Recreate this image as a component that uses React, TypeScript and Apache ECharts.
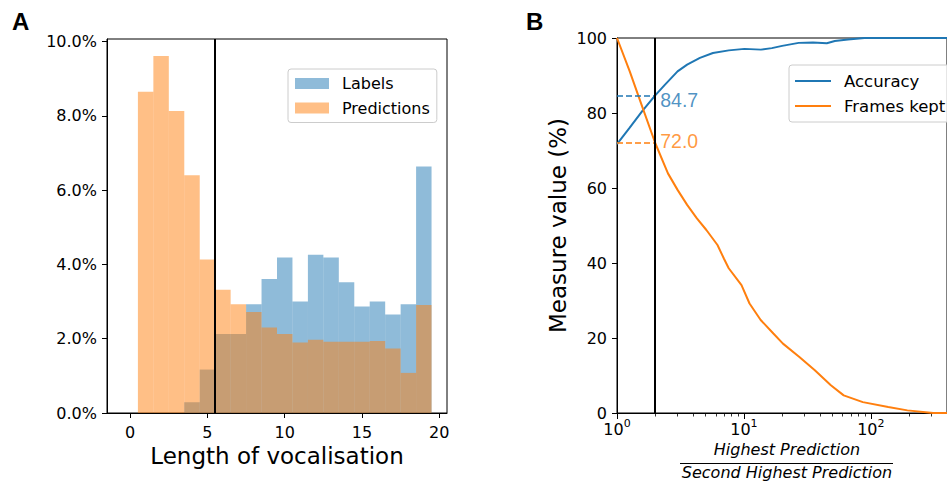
import React, { useEffect, useRef } from "react";
import * as echarts from "echarts";

// ---------- Panel A data ----------
const binCenters = [1, 2, 3, 4, 5, 6, 7, 8, 9, 10, 11, 12, 13, 14, 15, 16, 17, 18, 19];
const labelsPct = [0, 0, 0, 0.29, 1.17, 2.13, 2.13, 2.93, 3.61, 4.19, 3.0, 4.26, 4.19, 3.52, 2.87, 3.0, 2.65, 2.93, 6.64];
const predictionsPct = [8.65, 9.61, 8.13, 6.4, 4.13, 3.32, 2.93, 2.72, 2.3, 2.13, 1.9, 1.97, 1.92, 1.92, 1.92, 1.94, 1.74, 1.08, 2.91];
const cutoffLength = 5.5;
const xTicksA = [0, 5, 10, 15, 20];
const yTicksA = [0, 2, 4, 6, 8, 10];

// ---------- Panel B data ----------
const accRatio = [1, 1.26, 1.58, 2, 2.38, 3.0, 3.57, 4.5, 5.7, 7.6, 10.1, 13.6, 16.6, 20, 27, 35, 45, 52, 66, 89, 398];
const accuracy = [71.7, 76.1, 80.5, 84.7, 87.5, 91.1, 92.9, 94.7, 96.0, 96.7, 97.1, 96.9, 97.3, 97.9, 98.7, 98.8, 98.6, 99.2, 99.6, 100, 100];
const keptRatio = [1, 1.26, 1.58, 2, 2.52, 3.0, 3.57, 4.26, 5.06, 6.19, 6.95, 7.59, 9.57, 11.07, 13.55, 17.06, 20.3, 27.2, 36.2, 48.4, 61.1, 86.5, 137, 194, 310, 398];
const framesKept = [100, 91.1, 81.7, 72.0, 63.9, 59.5, 55.5, 51.9, 48.8, 44.8, 41.2, 38.6, 34.1, 29.2, 24.8, 21.2, 18.5, 15.0, 11.4, 7.4, 4.7, 2.9, 1.6, 0.7, 0, 0];
const cutoffRatio = 2;
const accAtCutoff = 84.7;
const keptAtCutoff = 72.0;
const decadeTicks = [1, 10, 100];
const minorRatios = [2, 3, 4, 5, 6, 7, 8, 9, 20, 30, 40, 50, 60, 70, 80, 90, 200, 300];
const yTicksB = [0, 20, 40, 60, 80, 100];

const FONT = "DejaVu Sans";
const BLUE = "#1f77b4";
const ORANGE = "#ff7f0e";
const BLUE_A = "rgba(31,119,180,0.5)";
const ORANGE_A = "rgba(255,127,14,0.5)";

function histItem(fill: string) {
  return (params: any, api: any) => {
    const c = api.value(0);
    const v = api.value(1);
    const p0 = api.coord([c - 0.5, v]);
    const p1 = api.coord([c + 0.5, 0]);
    return {
      type: "rect",
      shape: { x: p0[0], y: p0[1], width: p1[0] - p0[0], height: p1[1] - p0[1] },
      style: { fill },
    };
  };
}

export default function App() {
  const ref = useRef<HTMLDivElement>(null);
  useEffect(() => {
    if (!ref.current) return;
    const chart = echarts.init(ref.current, undefined, { renderer: "svg" });
    const lg = Math.log10;
    const axisCommon = {
      axisLine: { show: true, onZero: false, lineStyle: { color: "#000", width: 1 } },
      splitLine: { show: false },
    };
    const option: any = {
      animation: false,
      textStyle: { fontFamily: FONT },
      grid: [
        { left: 107, top: 39, width: 340, height: 374, show: true, borderColor: "#000", borderWidth: 1, containLabel: false },
        { left: 617, top: 38, width: 344.5, height: 375, show: true, borderColor: "#000", borderWidth: 1, containLabel: false },
      ],
      xAxis: [
        {
          ...axisCommon,
          gridIndex: 0,
          type: "value",
          min: -1.5,
          max: 20.5,
          axisTick: { show: true, customValues: xTicksA, length: 5, lineStyle: { color: "#000" } },
          axisLabel: { customValues: xTicksA, fontSize: 16, color: "#000", margin: 11, fontFamily: FONT },
          name: "Length of vocalisation",
          nameLocation: "middle",
          nameGap: 25,
          nameTextStyle: { fontSize: 23, color: "#000", fontFamily: FONT },
        },
        {
          ...axisCommon,
          gridIndex: 1,
          type: "value",
          position: "bottom",
          min: 0,
          max: 2.6,
          axisTick: { show: true, customValues: decadeTicks.map(lg), length: 6, lineStyle: { color: "#000" } },
          axisLabel: {
            customValues: decadeTicks.map(lg),
            margin: 8,
            color: "#000",
            formatter: (v: number) => "{b|10}{s|" + Math.round(v) + "}",
            rich: {
              b: { fontSize: 16, fontFamily: FONT, color: "#000", verticalAlign: "bottom", lineHeight: 16 },
              s: { fontSize: 11, fontFamily: FONT, color: "#000", verticalAlign: "bottom", lineHeight: 11, padding: [0, 0, 8, 0] },
            },
          },
        },
        {
          gridIndex: 1,
          type: "value",
          position: "bottom",
          offset: 0,
          min: 0,
          max: 2.6,
          axisLine: { show: false },
          splitLine: { show: false },
          axisTick: { show: true, customValues: minorRatios.map(lg), length: 3.5, lineStyle: { color: "#000", width: 0.8 } },
          axisLabel: { show: false, customValues: minorRatios.map(lg) },
        },
      ],
      yAxis: [
        {
          ...axisCommon,
          gridIndex: 0,
          type: "value",
          min: 0,
          max: 10.07,
          axisTick: { show: true, customValues: yTicksA, length: 5, lineStyle: { color: "#000" } },
          axisLabel: {
            customValues: yTicksA,
            fontSize: 16,
            color: "#000",
            margin: 10,
            fontFamily: FONT,
            formatter: (v: number) => v.toFixed(1) + "%",
          },
        },
        {
          ...axisCommon,
          gridIndex: 1,
          type: "value",
          min: 0,
          max: 100,
          axisTick: { show: true, customValues: yTicksB, length: 5, lineStyle: { color: "#000" } },
          axisLabel: { customValues: yTicksB, fontSize: 16, color: "#000", margin: 10, fontFamily: FONT },
          name: "Measure value (%)",
          nameLocation: "middle",
          nameGap: 48,
          nameTextStyle: { fontSize: 23, color: "#000", fontFamily: FONT },
        },
      ],
      legend: [
        {
          data: ["Labels", "Predictions"],
          left: 288,
          top: 69,
          orient: "vertical",
          icon: "rect",
          itemWidth: 34,
          itemHeight: 11,
          itemGap: 8.5,
          padding: [6.5, 7, 6.5, 7],
          borderColor: "#cccccc",
          borderWidth: 1,
          borderRadius: 3,
          backgroundColor: "rgba(255,255,255,0.8)",
          textStyle: { fontSize: 16, color: "#000", fontFamily: FONT, padding: [0, 0, 0, 8] },
        },
        {
          data: ["Accuracy", "Frames kept"],
          left: 789,
          top: 65,
          orient: "vertical",
          icon: "rect",
          itemWidth: 36,
          itemHeight: 2,
          itemGap: 8,
          padding: [7.5, 7, 7.5, 6],
          borderColor: "#cccccc",
          borderWidth: 1,
          borderRadius: 3,
          backgroundColor: "rgba(255,255,255,0.8)",
          textStyle: { fontSize: 16.5, color: "#000", fontFamily: FONT, padding: [0, 0, 0, 8] },
        },
      ],
      series: [
        {
          name: "Labels",
          type: "custom",
          xAxisIndex: 0,
          yAxisIndex: 0,
          itemStyle: { color: BLUE_A },
          renderItem: histItem(BLUE_A),
          data: binCenters.map((c, i) => [c, labelsPct[i]]),
        },
        {
          name: "Predictions",
          type: "custom",
          xAxisIndex: 0,
          yAxisIndex: 0,
          itemStyle: { color: ORANGE_A },
          renderItem: histItem(ORANGE_A),
          data: binCenters.map((c, i) => [c, predictionsPct[i]]),
          markLine: {
            silent: true,
            symbol: ["none", "none"],
            label: { show: false },
            lineStyle: { color: "#000", width: 2, type: "solid" },
            data: [{ xAxis: cutoffLength }],
          },
        },
        {
          name: "Accuracy",
          type: "line",
          xAxisIndex: 1,
          yAxisIndex: 1,
          showSymbol: false,
          color: BLUE,
          lineStyle: { color: BLUE, width: 2 },
          data: accRatio.map((r, i) => [lg(r), accuracy[i]]),
          markLine: {
            silent: true,
            symbol: ["none", "none"],
            label: { show: false },
            lineStyle: { color: BLUE, width: 1.5, type: [6, 3] },
            data: [[{ coord: [0, accAtCutoff] }, { coord: [lg(cutoffRatio), accAtCutoff] }]],
          },
        },
        {
          name: "Frames kept",
          type: "line",
          xAxisIndex: 1,
          yAxisIndex: 1,
          showSymbol: false,
          color: ORANGE,
          lineStyle: { color: ORANGE, width: 2 },
          data: keptRatio.map((r, i) => [lg(r), framesKept[i]]),
          markLine: {
            silent: true,
            symbol: ["none", "none"],
            label: { show: false },
            lineStyle: { color: ORANGE, width: 1.5, type: [6, 3] },
            data: [[{ coord: [0, keptAtCutoff] }, { coord: [lg(cutoffRatio), keptAtCutoff] }]],
          },
        },
        {
          name: "cutoff",
          type: "scatter",
          xAxisIndex: 1,
          yAxisIndex: 1,
          symbolSize: 0,
          silent: true,
          data: [
            {
              value: [lg(cutoffRatio), accAtCutoff],
              label: { show: true, position: "right", distance: 5, offset: [0, 5], formatter: accAtCutoff.toFixed(1), color: BLUE, fontSize: 19.5, fontFamily: "Liberation Sans" },
            },
            {
              value: [lg(cutoffRatio), keptAtCutoff],
              label: { show: true, position: "right", distance: 5, offset: [0, -2], formatter: keptAtCutoff.toFixed(1), color: ORANGE, fontSize: 19.5, fontFamily: "Liberation Sans" },
            },
          ],
          markLine: {
            silent: true,
            symbol: ["none", "none"],
            label: { show: false },
            lineStyle: { color: "#000", width: 2, type: "solid" },
            data: [{ xAxis: lg(cutoffRatio) }],
          },
        },
      ],
      graphic: [
        { type: "text", left: 12, top: 9, style: { text: "A", font: 'bold 24px "Liberation Sans"', fill: "#000" } },
        { type: "text", left: 526, top: 9, style: { text: "B", font: 'bold 24px "Liberation Sans"', fill: "#000" } },
        {
          type: "text",
          x: 787,
          y: 449,
          style: { text: "Highest Prediction", font: 'italic 16px "DejaVu Sans"', fill: "#000", textAlign: "center", textVerticalAlign: "middle" },
        },
        { type: "line", shape: { x1: 680, y1: 463.5, x2: 893, y2: 463.5 }, style: { stroke: "#000", lineWidth: 1 } },
        {
          type: "text",
          x: 787,
          y: 472.5,
          style: { text: "Second Highest Prediction", font: 'italic 16px "DejaVu Sans"', fill: "#000", textAlign: "center", textVerticalAlign: "middle" },
        },
      ],
    };
    chart.setOption(option);
    return () => chart.dispose();
  }, []);
  return <div ref={ref} style={{ position: "fixed", left: 0, top: 0, width: 947, height: 484, background: "#fff" }} />;
}
